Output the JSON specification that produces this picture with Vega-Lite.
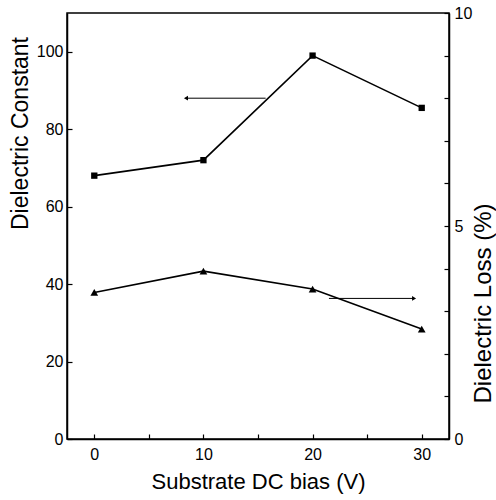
{
  "$schema": "https://vega.github.io/schema/vega-lite/v6.json",
  "width": 382,
  "height": 426,
  "autosize": {"type": "none"},
  "padding": {"left": 67, "top": 13, "right": 47, "bottom": 61},
  "background": "white",
  "config": {
    "view": {"stroke": "black", "strokeWidth": 1.5},
    "font": "Liberation Sans",
    "axis": {
      "domainColor": "black",
      "domainWidth": 1.5,
      "tickColor": "black",
      "tickWidth": 1.2,
      "tickSize": -5,
      "labelColor": "black",
      "titleColor": "black",
      "labelFont": "Liberation Sans",
      "titleFont": "Liberation Sans",
      "labelFontSize": 16,
      "titleFontSize": 22,
      "titleFontWeight": "normal",
      "grid": false
    }
  },
  "datasets": {
    "constant": [
      {"bias": 0, "value": 68},
      {"bias": 10, "value": 72},
      {"bias": 20, "value": 99},
      {"bias": 30, "value": 85.5}
    ],
    "loss": [
      {"bias": 0, "value": 3.44},
      {"bias": 10, "value": 3.94},
      {"bias": 20, "value": 3.52},
      {"bias": 30, "value": 2.58}
    ],
    "constArrow": [{"start": 15.7, "end": 8.4, "level": 88}],
    "lossArrow": [{"start": 21.5, "end": 29.3, "level": 3.3}]
  },
  "layer": [
    {
      "layer": [
        {
          "data": {"name": "constant"},
          "mark": {"type": "line", "color": "black", "strokeWidth": 1.6, "point": {"shape": "square", "filled": true, "size": 40, "color": "black"}},
          "encoding": {
            "x": {
              "field": "bias", "type": "quantitative",
              "scale": {"domain": [-2.5, 32.5], "nice": false, "zero": false},
              "axis": {"title": "Substrate DC bias (V)", "values": [0, 5, 10, 15, 20, 25, 30], "labelExpr": "datum.value % 10 == 0 ? datum.label : ''", "labelPadding": 12, "titleY": 49, "titleBaseline": "alphabetic"}
            },
            "y": {
              "field": "value", "type": "quantitative",
              "scale": {"domain": [0, 110], "nice": false},
              "axis": {"title": "Dielectric Constant", "orient": "left", "values": [0, 10, 20, 30, 40, 50, 60, 70, 80, 90, 100, 110], "labelExpr": "datum.value % 20 == 0 && datum.value <= 100 ? datum.label : ''", "labelPadding": 9, "titleFontSize": 23, "titleX": -40, "titleY": 120, "titleAngle": -90, "titleBaseline": "alphabetic", "titleAlign": "center"}
            }
          }
        },
        {
          "data": {"name": "constArrow"},
          "mark": {"type": "rule", "color": "black", "strokeWidth": 1},
          "encoding": {
            "x": {"field": "start", "type": "quantitative", "title": "Substrate DC bias (V)"},
            "x2": {"field": "end"},
            "y": {"field": "level", "type": "quantitative", "title": "Dielectric Constant"}
          }
        },
        {
          "data": {"name": "constArrow"},
          "mark": {"type": "point", "shape": "triangle-left", "filled": true, "color": "black", "size": 22, "opacity": 1},
          "encoding": {
            "x": {"field": "end", "type": "quantitative", "title": "Substrate DC bias (V)"},
            "y": {"field": "level", "type": "quantitative", "title": "Dielectric Constant"}
          }
        }
      ]
    },
    {
      "layer": [
        {
          "data": {"name": "loss"},
          "mark": {"type": "line", "color": "black", "strokeWidth": 1.6, "point": {"shape": "triangle-up", "filled": true, "size": 60, "color": "black"}},
          "encoding": {
            "x": {"field": "bias", "type": "quantitative", "title": "Substrate DC bias (V)"},
            "y": {
              "field": "value", "type": "quantitative",
              "scale": {"domain": [0, 10], "nice": false},
              "axis": {"title": "Dielectric Loss (%)", "orient": "right", "values": [0, 1, 2, 3, 4, 5, 6, 7, 8, 9, 10], "labelExpr": "datum.value % 5 == 0 ? datum.label : ''", "labelPadding": 10, "titleFontSize": 24, "titleX": 41, "titleY": 290, "titleAngle": -90, "titleBaseline": "alphabetic", "titleAlign": "center"}
            }
          }
        },
        {
          "data": {"name": "lossArrow"},
          "mark": {"type": "rule", "color": "black", "strokeWidth": 1},
          "encoding": {
            "x": {"field": "start", "type": "quantitative", "title": "Substrate DC bias (V)"},
            "x2": {"field": "end"},
            "y": {"field": "level", "type": "quantitative", "title": "Dielectric Loss (%)"}
          }
        },
        {
          "data": {"name": "lossArrow"},
          "mark": {"type": "point", "shape": "triangle-right", "filled": true, "color": "black", "size": 22, "opacity": 1},
          "encoding": {
            "x": {"field": "end", "type": "quantitative", "title": "Substrate DC bias (V)"},
            "y": {"field": "level", "type": "quantitative", "title": "Dielectric Loss (%)"}
          }
        }
      ]
    }
  ],
  "resolve": {"scale": {"y": "independent"}}
}
